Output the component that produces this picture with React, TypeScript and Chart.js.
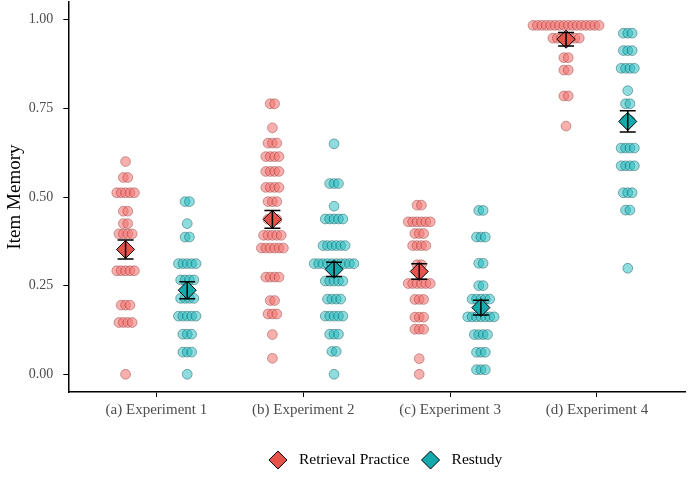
import React, { useEffect, useRef } from "react";
import { Chart, registerables } from "chart.js";

Chart.register(...registerables);

const categories = ["(a) Experiment 1", "(b) Experiment 2", "(c) Experiment 3", "(d) Experiment 4"];
const yTicks = [0, 0.25, 0.5, 0.75, 1];

// per-condition means and standard errors (one per experiment)
const retrievalMeans = [0.352, 0.437, 0.29, 0.945];
const retrievalSE = [0.027, 0.025, 0.022, 0.019];
const restudyMeans = [0.237, 0.296, 0.188, 0.713];
const restudySE = [0.024, 0.02, 0.021, 0.03];

// dot-plot bins: [item memory value, number of participants in bin]
const exp1Retrieval = [[0.6, 1], [0.555, 2], [0.512, 5], [0.46, 2], [0.425, 2], [0.396, 4], [0.292, 5], [0.195, 3], [0.146, 4], [0.0, 1]];
const exp1Restudy = [[0.487, 2], [0.425, 1], [0.387, 2], [0.312, 5], [0.266, 4], [0.214, 4], [0.164, 5], [0.113, 3], [0.0625, 3], [0.0, 1]];
const exp2Retrieval = [[0.763, 2], [0.695, 1], [0.652, 3], [0.614, 4], [0.572, 4], [0.527, 4], [0.487, 3], [0.437, 3], [0.392, 5], [0.356, 6], [0.274, 4], [0.208, 2], [0.17, 3], [0.112, 1], [0.045, 1]];
const exp2Restudy = [[0.65, 1], [0.538, 3], [0.474, 1], [0.438, 5], [0.363, 6], [0.312, 10], [0.263, 5], [0.212, 4], [0.164, 5], [0.113, 3], [0.0645, 2], [0.0, 1]];
const exp3Retrieval = [[0.477, 2], [0.43, 6], [0.397, 3], [0.363, 4], [0.309, 2], [0.256, 6], [0.211, 3], [0.161, 3], [0.127, 3], [0.044, 1], [0.0, 1]];
const exp3Restudy = [[0.462, 2], [0.387, 3], [0.313, 2], [0.25, 2], [0.212, 5], [0.162, 7], [0.112, 4], [0.062, 3], [0.013, 3]];
const exp4Retrieval = [[0.984, 16], [0.948, 7], [0.893, 2], [0.858, 2], [0.785, 2], [0.7, 1]];
const exp4Restudy = [[0.962, 3], [0.913, 3], [0.863, 4], [0.8, 1], [0.763, 2], [0.716, 2], [0.638, 4], [0.588, 4], [0.512, 3], [0.463, 2], [0.299, 1]];

const retrievalBins = [exp1Retrieval, exp2Retrieval, exp3Retrieval, exp4Retrieval];
const restudyBins = [exp1Restudy, exp2Restudy, exp3Restudy, exp4Restudy];

const DODGE = 0.21;
const STACK = 0.03;
const FONT = "'Liberation Serif', 'DejaVu Serif', serif";

function dots(groups: number[][][], offset: number) {
  const pts: { x: number; y: number }[] = [];
  groups.forEach((rows, g) => {
    rows.forEach(([v, n]) => {
      for (let i = 0; i < n; i++) {
        pts.push({ x: g + offset + (i - (n - 1) / 2) * STACK, y: v });
      }
    });
  });
  return pts;
}

const errorBars = {
  id: "errorBars",
  afterDatasetsDraw(chart: any) {
    const { ctx, scales } = chart;
    const xs = scales.x;
    const ys = scales.y;
    const draw = (means: number[], se: number[], off: number) => {
      means.forEach((m, i) => {
        const x = xs.getPixelForValue(i + off);
        const y1 = ys.getPixelForValue(m - se[i]);
        const y2 = ys.getPixelForValue(m + se[i]);
        ctx.save();
        ctx.strokeStyle = "#000";
        ctx.lineWidth = 1.5;
        ctx.beginPath();
        ctx.moveTo(x, y1);
        ctx.lineTo(x, y2);
        ctx.moveTo(x - 8, y1);
        ctx.lineTo(x + 8, y1);
        ctx.moveTo(x - 8, y2);
        ctx.lineTo(x + 8, y2);
        ctx.stroke();
        ctx.restore();
      });
    };
    draw(retrievalMeans, retrievalSE, -DODGE);
    draw(restudyMeans, restudySE, DODGE);
  },
};

// bottom legend drawn from the two mean datasets
const diamondLegend = {
  id: "diamondLegend",
  afterDraw(chart: any) {
    const { ctx, chartArea } = chart;
    const items = chart.data.datasets.slice(0, 2);
    ctx.save();
    ctx.font = `15.5px ${FONT}`;
    const widths = items.map((d: any) => ctx.measureText(d.label).width);
    const half = 9;
    const gap = 21;
    const total = half + gap + widths[0] + gap + gap + widths[1];
    const center = (chartArea.left + chartArea.right) / 2 + 9;
    let x = center - total / 2;
    const y = 460;
    items.forEach((d: any, i: number) => {
      const cx = x + half;
      ctx.beginPath();
      ctx.moveTo(cx - half, y);
      ctx.lineTo(cx, y - half);
      ctx.lineTo(cx + half, y);
      ctx.lineTo(cx, y + half);
      ctx.closePath();
      ctx.fillStyle = d.backgroundColor;
      ctx.fill();
      ctx.strokeStyle = "#000";
      ctx.lineWidth = 1;
      ctx.stroke();
      ctx.fillStyle = "#000";
      ctx.textBaseline = "middle";
      ctx.textAlign = "left";
      ctx.fillText(d.label, cx + gap, y);
      x = cx + gap + widths[i] + gap - half;
    });
    ctx.restore();
  },
};

export default function App() {
  const ref = useRef<HTMLCanvasElement>(null);
  useEffect(() => {
    const chart = new Chart(ref.current!, {
      type: "scatter",
      data: {
        datasets: [
          {
            label: "Retrieval Practice",
            data: retrievalMeans.map((m, i) => ({ x: i - DODGE, y: m })),
            pointStyle: "rectRot",
            pointRadius: 9,
            backgroundColor: "#E5534B",
            borderColor: "#000",
            borderWidth: 1,
            order: 0,
          },
          {
            label: "Restudy",
            data: restudyMeans.map((m, i) => ({ x: i + DODGE, y: m })),
            pointStyle: "rectRot",
            pointRadius: 9,
            backgroundColor: "#14A9AC",
            borderColor: "#000",
            borderWidth: 1,
            order: 0,
          },
          {
            label: "retrieval-dots",
            data: dots(retrievalBins, -DODGE),
            pointRadius: 4.9,
            backgroundColor: "rgba(242,112,108,0.55)",
            borderColor: "rgba(140,50,50,0.55)",
            borderWidth: 0.8,
            order: 1,
          },
          {
            label: "restudy-dots",
            data: dots(restudyBins, DODGE),
            pointRadius: 4.9,
            backgroundColor: "rgba(30,185,190,0.5)",
            borderColor: "rgba(20,90,95,0.6)",
            borderWidth: 0.8,
            order: 1,
          },
        ],
      },
      plugins: [errorBars, diamondLegend],
      options: {
        responsive: false,
        animation: false,
        layout: { autoPadding: false, padding: { top: 2, right: 14, bottom: 56, left: 2 } },
        plugins: {
          tooltip: { enabled: false },
          legend: { display: false },
        },
        scales: {
          x: {
            type: "linear",
            min: -0.6,
            max: 3.6,
            afterBuildTicks: (axis: any) => {
              axis.ticks = categories.map((_, i) => ({ value: i }));
            },
            ticks: {
              callback: (v: any) => categories[v as number] ?? "",
              color: "#4d4d4d",
              font: { family: FONT, size: 15 },
              padding: 4,
              maxRotation: 0,
            },
            grid: { drawOnChartArea: false, tickLength: 5, color: "#000", lineWidth: 1 },
            border: { display: true, color: "#000", width: 1.5 },
          },
          y: {
            type: "linear",
            min: -0.05,
            max: 1.05,
            afterBuildTicks: (axis: any) => {
              axis.ticks = yTicks.map((v) => ({ value: v }));
            },
            afterFit: (axis: any) => {
              axis.paddingTop = 0;
            },
            ticks: {
              callback: (v: any) => Number(v).toFixed(2),
              color: "#4d4d4d",
              font: { family: FONT, size: 14 },
              padding: 10,
            },
            title: {
              display: true,
              text: "Item Memory",
              color: "#000",
              font: { family: FONT, size: 19 },
              padding: { top: 2, bottom: -8 },
            },
            grid: { drawOnChartArea: false, tickLength: 5, color: "#000", lineWidth: 1 },
            border: { display: true, color: "#000", width: 1.5 },
          },
        },
      },
    } as any);
    return () => chart.destroy();
  }, []);
  return (
    <div style={{ position: "fixed", left: 0, top: 0, width: 699, height: 479, background: "#fff" }}>
      <canvas ref={ref} width={699} height={479} />
    </div>
  );
}
